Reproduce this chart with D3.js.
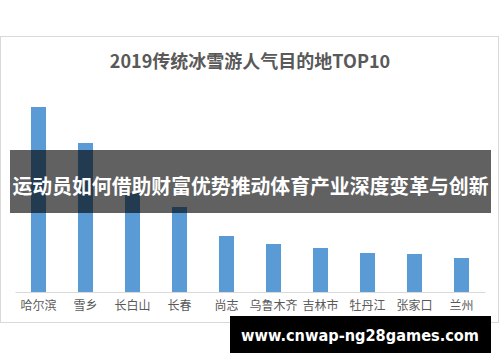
<!DOCTYPE html>
<html>
<head>
  <meta charset="utf-8">
  <title>2019传统冰雪游人气目的地TOP10</title>
  <style>
    body { margin: 0; background: #fff; }
    svg { display: block; font-family: "Noto Sans CJK SC", sans-serif; }
  </style>
</head>
<body>
<svg width="500" height="362"></svg>
<script src="https://cdn.jsdelivr.net/npm/d3@7"></script>
<script>
  // data (relative popularity)
  var cities = ["哈尔滨", "雪乡", "长白山", "长春", "尚志", "乌鲁木齐", "吉林市", "牡丹江", "张家口", "兰州"];
  var heat = [18.5, 14.9, 9.9, 8.5, 5.6, 4.8, 4.4, 3.9, 3.8, 3.4];

  var title = "2019传统冰雪游人气目的地TOP10";
  var banner = "运动员如何借助财富优势推动体育产业深度变革与创新";
  var site = "www.cnwap-ng28games.com";

  var svg = d3.select("svg");

  // chart frame
  svg.append("rect")
      .attr("x", 0.5).attr("y", 36.5)
      .attr("width", 498).attr("height", 286)
      .attr("fill", "#fff")
      .attr("stroke", "#d9d9d9");

  svg.append("text")
      .attr("x", 250).attr("y", 68)
      .attr("text-anchor", "middle")
      .attr("font-size", 18).attr("font-weight", "bold")
      .attr("fill", "#595959")
      .text(title);

  var x = d3.scaleBand()
      .domain(cities)
      .range([15, 485])
      .paddingInner(0.68)
      .paddingOuter(0.34);

  var y = d3.scaleLinear().domain([0, 20]).range([292, 92]);

  svg.selectAll(".bar")
    .data(cities)
    .enter().append("rect")
      .attr("class", "bar")
      .attr("x", function(d) { return x(d); })
      .attr("y", function(d, i) { return y(heat[i]); })
      .attr("width", x.bandwidth())
      .attr("height", function(d, i) { return y(0) - y(heat[i]); })
      .attr("fill", "#5b9bd5");

  var axis = svg.append("g")
      .attr("transform", "translate(0,292)")
      .call(d3.axisBottom(x).tickSize(0).tickPadding(9));
  axis.select(".domain").attr("stroke", "#d9d9d9");
  axis.selectAll("text")
      .attr("font-size", 12)
      .attr("fill", "#595959")
      .attr("font-family", "Noto Sans CJK SC, sans-serif");

  // overlay banner
  svg.append("rect")
      .attr("x", 10).attr("y", 150)
      .attr("width", 481).attr("height", 63)
      .attr("fill", "rgba(0,0,0,0.62)");

  svg.append("text")
      .attr("x", 250.5).attr("y", 194)
      .attr("text-anchor", "middle")
      .attr("font-size", 20).attr("font-weight", "bold")
      .attr("fill", "#fff")
      .attr("textLength", 476)
      .attr("lengthAdjust", "spacingAndGlyphs")
      .text(banner);

  // site box
  svg.append("rect")
      .attr("x", 230).attr("y", 316)
      .attr("width", 261).attr("height", 37)
      .attr("fill", "#000");

  svg.append("text")
      .attr("x", 360).attr("y", 341)
      .attr("text-anchor", "middle")
      .attr("font-family", "DejaVu Sans, sans-serif")
      .attr("font-size", 15).attr("font-weight", "bold")
      .attr("fill", "#fff")
      .attr("textLength", 238)
      .attr("lengthAdjust", "spacingAndGlyphs")
      .text(site);
</script>
</body>
</html>
